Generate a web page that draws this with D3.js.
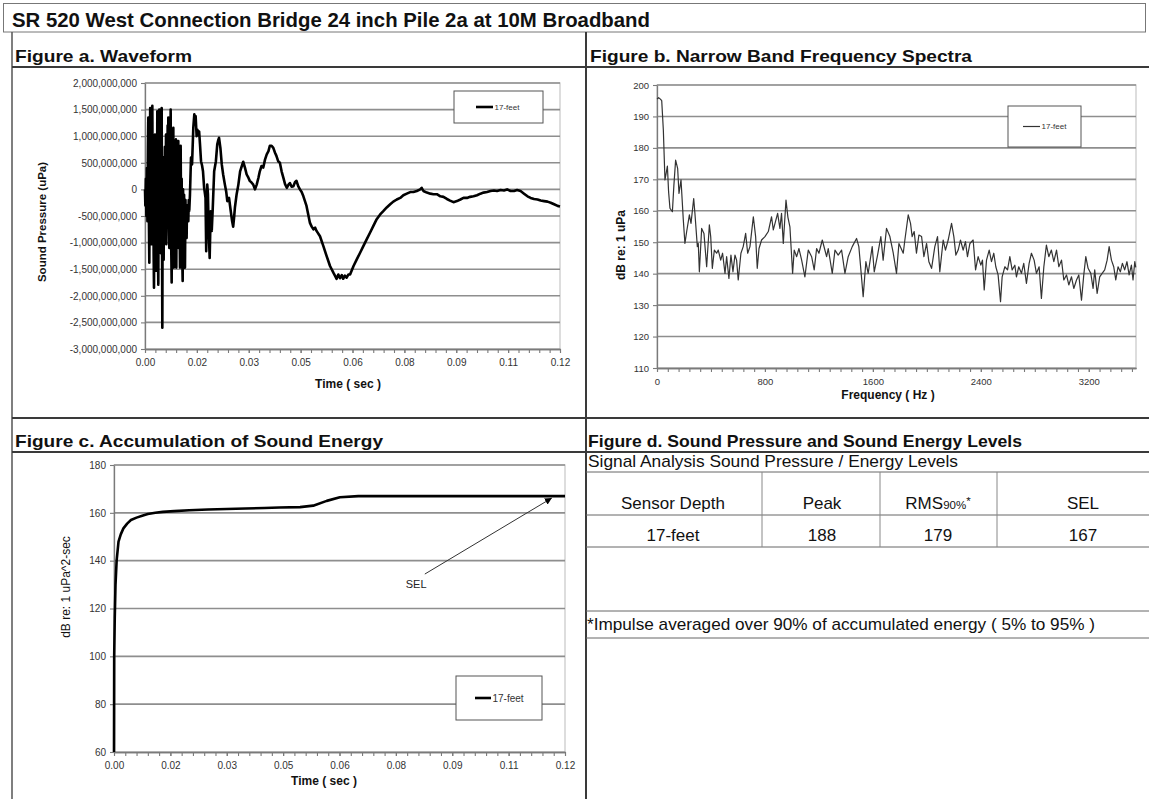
<!DOCTYPE html>
<html><head><meta charset="utf-8">
<script src="https://cdn.jsdelivr.net/npm/d3@7"></script>
<style>
body{margin:0;background:#fff}
svg{display:block}
text{font-family:"Liberation Sans",Arial,Helvetica,sans-serif}
</style>
</head><body>
<svg id="c" width="1149" height="799"></svg>
<script>
// ---------------- DATA ----------------
const chartTitle = "SR 520 West Connection Bridge 24 inch Pile 2a at 10M Broadband";
const panelTitles = ["Figure a. Waveform","Figure b. Narrow Band Frequency Spectra","Figure c. Accumulation of Sound Energy","Figure d. Sound Pressure and Sound Energy Levels"];
const seriesName = "17-feet";

// Figure a: waveform [time ms, pressure x 1e9 uPa]
const waveform = [
[0.00,0.0],[0.10,-0.3],[0.25,0.2],[0.40,-0.5],[0.55,0.4],[0.70,-0.6],[0.85,0.8],[0.96,1.35],[1.10,-0.4],[1.25,-1.38],
[1.40,0.6],[1.50,1.53],[1.65,-0.2],[1.80,0.9],[1.93,-1.03],[2.05,1.2],[2.12,1.57],[2.25,-0.5],[2.40,0.7],[2.50,-1.2],
[2.60,-1.85],[2.75,0.3],[2.89,1.03],[3.00,-0.8],[3.10,0.5],[3.18,-1.53],[3.30,0.8],[3.45,-0.6],[3.56,1.47],[3.70,-0.9],
[3.85,-1.79],[3.95,0.4],[4.05,1.1],[4.14,1.50],[4.25,-0.6],[4.34,-0.85],[4.45,0.9],[4.60,-1.2],[4.72,0.6],[4.82,1.53],
[4.92,-0.9],[5.01,-2.60],[5.12,0.2],[5.20,-0.7],[5.30,0.60],[5.40,-1.32],[5.49,0.3],[5.60,-0.5],[5.75,0.8],[5.90,-0.8],
[6.07,1.03],[6.15,-1.03],[6.26,0.5],[6.40,-0.7],[6.55,1.2],[6.65,-0.4],[6.74,1.35],[6.88,-0.6],[7.03,-1.10],[7.15,0.7],
[7.28,-0.3],[7.42,1.50],[7.55,-0.9],[7.71,-1.75],[7.82,0.5],[7.95,-0.8],[8.05,0.9],[8.19,1.16],[8.30,-1.47],[8.45,0.3],
[8.60,-0.9],[8.75,0.8],[8.96,0.94],[9.05,-1.47],[9.20,0.2],[9.35,-0.8],[9.50,0.7],[9.63,0.91],[9.75,-1.10],[9.90,0.3],
[10.05,-0.9],[10.12,-1.47],[10.22,0.5],[10.31,0.82],[10.45,-0.7],[10.60,0.2],[10.75,-1.2],[10.89,-1.72],[11.00,0.0],[11.15,-0.5],
[11.30,-0.1],[11.45,-1.1],[11.56,-1.47],[11.70,-0.2],[11.85,-0.9],[12.04,-0.91],[12.15,-0.3],[12.30,-0.6],[12.52,-0.60],[12.65,-0.2],
[12.80,-0.4],[13.00,-0.1],[13.3,0.60],[13.6,0.47],[13.97,1.16],[14.26,1.41],[14.45,1.30],[14.64,1.38],[14.93,1.0],[15.15,1.12],
[15.4,1.02],[15.65,1.09],[15.9,0.85],[16.2,0.53],[16.5,0.45],[16.77,0.34],[17.1,0.03],[17.5,-0.16],[17.7,-1.16],[18.0,0.09],
[18.2,-0.09],[18.4,-0.72],[18.7,-1.29],[19.0,-0.41],[19.3,-0.78],[19.6,-0.34],[20.0,0.34],[20.5,0.53],[20.9,0.85],[21.15,0.92],
[21.4,0.97],[21.8,0.78],[22.2,0.47],[22.6,0.28],[23.1,0.09],[23.5,-0.05],[23.8,-0.22],[24.3,-0.16],[24.8,-0.41],[25.2,-0.60],
[25.5,-0.70],[25.8,-0.50],[26.0,-0.34],[26.5,-0.09],[27.0,0.09],[27.5,0.34],[28.0,0.44],[28.4,0.52],[28.9,0.41],[29.4,0.28],
[29.9,0.22],[30.3,0.16],[30.8,0.13],[31.3,0.09],[31.8,0.0],[32.3,0.09],[32.8,0.22],[33.2,0.34],[33.7,0.44],[34.2,0.41],
[34.7,0.56],[35.2,0.66],[35.7,0.72],[36.1,0.82],[36.6,0.82],[37.1,0.78],[37.6,0.69],[38.0,0.63],[38.5,0.53],[39.0,0.50],
[39.5,0.34],[40.0,0.22],[40.5,0.10],[41.0,0.03],[41.5,0.09],[41.9,0.12],[42.4,0.05],[42.9,0.06],[43.4,0.14],[43.8,0.16],
[44.3,0.06],[44.8,0.0],[45.3,-0.05],[45.8,-0.13],[46.7,-0.31],[47.7,-0.63],[48.2,-0.70],[48.7,-0.75],[49.2,-0.72],[49.6,-0.78],
[50.6,-0.88],[51.6,-1.07],[52.5,-1.25],[53.5,-1.44],[54.5,-1.57],[55.0,-1.63],[55.4,-1.68],[55.9,-1.60],[56.4,-1.67],[56.9,-1.61],
[57.3,-1.68],[57.8,-1.62],[58.3,-1.66],[58.8,-1.60],[59.3,-1.60],[60.3,-1.44],[61.2,-1.32],[62.2,-1.19],[63.1,-1.07],[64.1,-0.94],
[65.1,-0.81],[66.0,-0.69],[67.0,-0.56],[68.0,-0.47],[68.9,-0.41],[69.9,-0.34],[70.9,-0.28],[71.8,-0.23],[72.8,-0.19],[73.8,-0.16],
[74.7,-0.11],[75.7,-0.08],[76.7,-0.05],[77.6,-0.05],[78.6,-0.03],[79.6,0.0],[80.0,0.03],[80.5,-0.03],[81.5,-0.06],[82.5,-0.08],
[83.4,-0.09],[84.4,-0.09],[85.4,-0.13],[86.3,-0.14],[87.3,-0.18],[88.2,-0.21],[89.2,-0.24],[90.2,-0.22],[91.2,-0.19],[92.1,-0.16],
[93.1,-0.16],[94.0,-0.14],[95.0,-0.13],[96.0,-0.11],[97.0,-0.08],[97.9,-0.06],[98.9,-0.05],[99.9,-0.03],[100.9,-0.02],[101.8,-0.03],
[102.8,-0.01],[103.8,-0.02],[104.7,0.0],[105.7,-0.03],[106.7,-0.03],[107.6,-0.01],[108.6,-0.03],[109.6,-0.08],[110.6,-0.13],[111.5,-0.16],
[112.5,-0.18],[113.5,-0.19],[114.4,-0.21],[115.4,-0.22],[116.4,-0.23],[117.3,-0.25],[118.3,-0.28],[119.3,-0.31],[120.0,-0.32]
];
const waveYTicks = [-3e9,-2.5e9,-2e9,-1.5e9,-1e9,-5e8,0,5e8,1e9,1.5e9,2e9];
const waveYLabels = ["-3,000,000,000","-2,500,000,000","-2,000,000,000","-1,500,000,000","-1,000,000,000","-500,000,000","0","500,000,000","1,000,000,000","1,500,000,000","2,000,000,000"];
const timeTicks = [0,0.015,0.03,0.045,0.06,0.075,0.09,0.105,0.12];
const timeLabels = ["0.00","0.02","0.03","0.05","0.06","0.08","0.09","0.11","0.12"];

// Figure b: spectrum [frequency Hz, dB]
const spectrum = [
[0,195.5],[12,196],[25,195.5],[35,195],[47,185.7],[59,169.8],[68,172],[77,174.2],[86,166],[96,160.8],[114,159.7],[125,168],
[138,176.1],[153,173.5],[163,165.5],[178,169.8],[195,157.1],[207,149.6],[220,153.4],[240,158.7],[252,156],[272,163.9],[281,159.2],
[299,148.6],[306,149.6],[314,140.6],[331,154.4],[348,152.8],[368,142.2],[388,155.5],[398,151.8],[410,141.7],[425,147.5],[442,146.5],
[454,147.5],[472,144.3],[486,146.5],[504,140.1],[516,145.4],[533,138.5],[548,145.9],[563,140.6],[578,145.9],[590,144.3],[602,138],
[622,146.5],[639,148.6],[657,152.8],[672,146.5],[689,148.6],[714,158.1],[731,151.8],[743,141.7],[756,148],[775,150.7],[800,151.8],
[825,153.4],[849,158.1],[862,153.9],[894,159.2],[911,154.4],[923,159.2],[936,149.6],[956,163.4],[970,158],[985,154.9],[1005,140.1],
[1017,147.5],[1035,145.4],[1052,148],[1072,144.3],[1096,139],[1121,147.5],[1146,145.4],[1165,141.2],[1183,148],[1200,146.5],
[1225,150.7],[1257,145.4],[1269,148],[1299,140.1],[1319,147.5],[1343,145.9],[1368,147.5],[1393,140.1],[1417,145.4],[1447,148.6],
[1479,151.2],[1496,148.6],[1511,141.2],[1528,132.7],[1548,143.8],[1565,140.1],[1595,148.6],[1610,140.6],[1635,146],[1659,151.8],
[1676,144.3],[1701,154.4],[1726,151.8],[1751,146.5],[1775,140.1],[1793,149.6],[1825,146.5],[1837,150.7],[1862,158.7],[1879,156],
[1891,151.8],[1906,153.4],[1923,146.5],[1941,152.3],[1961,151.8],[1978,145.4],[1998,149.6],[2015,143.8],[2035,141.7],[2059,148.6],
[2079,151.8],[2096,140.6],[2121,150.7],[2138,147.5],[2158,150.7],[2183,156],[2200,151.8],[2215,145.9],[2232,147.5],[2249,150.7],
[2269,147.5],[2286,150.2],[2301,145.4],[2319,149.6],[2343,150.7],[2361,141.2],[2380,145.4],[2400,142.7],[2412,144.3],[2425,134.8],
[2442,144.3],[2462,147.5],[2479,143.8],[2496,146.5],[2511,142.2],[2528,139.6],[2546,131.1],[2558,139],[2578,142.2],[2598,141.2],
[2615,145.4],[2632,141.2],[2652,142.7],[2664,139],[2681,142.2],[2701,140.1],[2718,143.3],[2738,136.9],[2758,143.3],[2775,146.5],
[2795,144.3],[2812,140.1],[2832,142.2],[2849,132.1],[2867,142.2],[2886,149.1],[2904,145.4],[2923,147.5],[2941,143.8],[2961,147.5],
[2978,142.2],[2998,144.3],[3015,138],[3035,139.6],[3052,136.4],[3072,139],[3089,135.3],[3109,138],[3126,139.6],[3146,131.6],
[3163,139.6],[3178,145.4],[3195,141.7],[3215,140.1],[3232,135.3],[3244,141.2],[3262,133.7],[3281,139],[3299,140.1],[3318,141.2],
[3336,144.3],[3351,148.6],[3368,144.3],[3385,142.2],[3400,138],[3417,142.2],[3434,140.6],[3449,143.3],[3466,141.2],[3483,143.8],
[3499,139.6],[3516,142.7],[3528,138],[3541,143.8],[3548,142]
];
const specYTicks = [110,120,130,140,150,160,170,180,190,200];
const specXTicks = [0,800,1600,2400,3200];

// Figure c: accumulated energy [time s, dB]
const energy = [
[0,60],[0.00005,100],[0.0002,116],[0.0004,130],[0.0007,140],[0.0012,148],[0.0018,151],[0.0025,153.5],[0.0035,155.5],
[0.0045,157],[0.006,158],[0.0075,158.8],[0.009,159.5],[0.011,160],[0.013,160.4],[0.016,160.7],[0.02,161.1],[0.025,161.4],
[0.03,161.6],[0.035,161.8],[0.04,162],[0.044,162.2],[0.0495,162.4],[0.053,163.0],[0.0566,165.0],[0.0601,166.5],[0.065,167.0],
[0.09,167.0],[0.12,167.0]
];
const energyYTicks = [60,80,100,120,140,160,180];
const selAnnotation = {label:"SEL", from:[0.0827,134.4], to:[0.1165,166.2], text:[0.0804,128.6]};

// Figure d: table
const tableHeader = ["Sensor Depth","Peak","RMS","SEL"];
const tableRow = ["17-feet","188","179","167"];
const tableCaption = "Signal Analysis Sound Pressure / Energy Levels";
const footnote = "*Impulse averaged over 90% of accumulated energy ( 5% to 95% )";

// ---------------- DRAW ----------------
const svg = d3.select("#c");
const W = 1149, H = 799;
svg.append("rect").attr("width",W).attr("height",H).attr("fill","#fff");

// frame
const frame = svg.append("g").attr("fill","none");
frame.append("rect").attr("x",3.5).attr("y",3.5).attr("width",1142).attr("height",28.5).attr("stroke","#777").attr("stroke-width",1);
const dark = "#3a3a3a";
function hline(y,x1,x2,w,c){frame.append("line").attr("x1",x1).attr("x2",x2).attr("y1",y).attr("y2",y).attr("stroke",c||dark).attr("stroke-width",w||1);}
function vline(x,y1,y2,w,c){frame.append("line").attr("x1",x).attr("x2",x).attr("y1",y1).attr("y2",y2).attr("stroke",c||dark).attr("stroke-width",w||1);}
vline(12,32,799,1.5,"#555");
vline(586,32,799,2);
hline(67,12,1149,2);
hline(418,12,1149,2);
hline(452,12,1149,2);
hline(472,586,1149,1,"#666");
hline(515,586,1149,1,"#666");
hline(547,586,1149,1,"#666");
hline(611,586,1149,1,"#666");
hline(638,586,1149,1,"#666");
[762,880,997].forEach(x=>vline(x,472,547,1,"#888"));

svg.append("text").attr("x",12).attr("y",27).attr("font-size",20.5).attr("font-weight","bold").attr("fill","#111")
  .attr("textLength",638).attr("lengthAdjust","spacingAndGlyphs").text(chartTitle);
const headerPos = [[15,62,177],[590,62,382],[15,447,368],[588,447,434]];
panelTitles.forEach((t,i)=>svg.append("text").attr("x",headerPos[i][0]).attr("y",headerPos[i][1]).attr("font-size",16.5).attr("font-weight","bold").attr("fill","#111")
  .attr("textLength",headerPos[i][2]).attr("lengthAdjust","spacingAndGlyphs").text(t));

function panelChart(cfg){
  const [L,T,R,B] = cfg.box;
  const x = d3.scaleLinear().domain(cfg.xDomain).range([L,R]);
  const y = d3.scaleLinear().domain(cfg.yDomain).range([B,T]);
  const g = svg.append("g");
  g.append("rect").attr("x",L).attr("y",T).attr("width",R-L).attr("height",B-T).attr("fill","#fff").attr("stroke","#c6c6c6").attr("stroke-width",1.2);
  g.append("g").selectAll("line").data(cfg.yTicks.filter(v=>v!==cfg.yDomain[0])).join("line")
    .attr("x1",L).attr("x2",R).attr("y1",d=>y(d)).attr("y2",d=>y(d)).attr("stroke","#8e8e8e").attr("stroke-width",1.6);
  const ya = g.append("g").attr("transform",`translate(${L},0)`)
    .call(d3.axisLeft(y).tickValues(cfg.yTicks).tickFormat((d,i)=>cfg.yLabels[i]).tickSize(4).tickSizeOuter(0).tickPadding(4));
  const xm = g.append("g").attr("transform",`translate(0,${B})`)
    .call(d3.axisBottom(x).tickValues(cfg.xMinor).tickFormat("").tickSize(4).tickSizeOuter(0));
  const xa = g.append("g").attr("transform",`translate(0,${B})`)
    .call(d3.axisBottom(x).tickValues(cfg.xTicks).tickFormat((d,i)=>cfg.xLabels[i]).tickSize(4).tickSizeOuter(0).tickPadding(cfg.xPad||6));
  [ya,xm,xa].forEach(a=>{
    a.select(".domain").attr("stroke","#7a7a7a").attr("stroke-width",1.3);
    a.selectAll(".tick line").attr("stroke","#7a7a7a").attr("stroke-width",1.1);
    a.selectAll("text").attr("font-size",cfg.tickFont).attr("fill","#333");
  });
  const line = d3.line().x(d=>x(d[0]*cfg.xMul)).y(d=>y(d[1]*cfg.yMul));
  g.append("path").datum(cfg.data).attr("d",line).attr("fill","none").attr("stroke",cfg.stroke).attr("stroke-width",cfg.strokeWidth).attr("stroke-linejoin","round");
  // axis titles
  g.append("text").attr("transform",`translate(${cfg.yTitle[1]},${cfg.yTitle[2]}) rotate(-90)`).attr("text-anchor","middle")
    .attr("font-size",cfg.yTitle[3]).attr("font-weight",cfg.yTitle[4]).attr("fill","#111").text(cfg.yTitle[0]);
  g.append("text").attr("x",cfg.xTitle[1]).attr("y",cfg.xTitle[2]).attr("text-anchor","middle")
    .attr("font-size",cfg.xTitle[3]).attr("font-weight","bold").attr("fill","#111").text(cfg.xTitle[0]);
  // legend
  const lg = cfg.legend;
  g.append("rect").attr("x",lg.box[0]).attr("y",lg.box[1]).attr("width",lg.box[2]-lg.box[0]).attr("height",lg.box[3]-lg.box[1]).attr("fill","#fff").attr("stroke","#555").attr("stroke-width",1);
  const ly = (lg.box[1]+lg.box[3])/2;
  g.append("line").attr("x1",lg.line[0]).attr("x2",lg.line[1]).attr("y1",ly).attr("y2",ly).attr("stroke",cfg.stroke).attr("stroke-width",cfg.strokeWidth);
  g.append("text").attr("x",lg.line[1]+1.5).attr("y",ly+lg.font*0.35).attr("font-size",lg.font).attr("fill","#333").text(seriesName);
  return {x,y,g};
}

// Figure a
panelChart({
  box:[145,83,560,349], xDomain:[0,0.12], yDomain:[-3e9,2e9],
  yTicks:waveYTicks, yLabels:waveYLabels, xTicks:timeTicks, xLabels:timeLabels,
  xMinor:d3.range(0,0.12001,0.003), tickFont:10,
  data:waveform, xMul:0.001, yMul:1e9, stroke:"#000", strokeWidth:2.6,
  yTitle:["Sound Pressure (uPa)",46,222,11.5,"bold"], xTitle:["Time ( sec )",348,388,12],
  legend:{box:[454,91,543,123], line:[476,493], font:8}
});

// Figure b
panelChart({
  box:[657,85,1136,368], xDomain:[0,3550], yDomain:[110,200],
  yTicks:specYTicks, yLabels:specYTicks.map(String), xTicks:specXTicks, xLabels:specXTicks.map(String),
  xMinor:d3.range(0,3550,80), tickFont:9.5,
  data:spectrum, xMul:1, yMul:1, stroke:"#333", strokeWidth:1.2,
  yTitle:["dB re: 1 uPa",625,245,12,"bold"], xTitle:["Frequency ( Hz )",888,399,12],
  legend:{box:[1008,106,1081,147], line:[1023,1040], font:8}
});

// Figure c
const cc = panelChart({
  box:[114,465,565,752], xDomain:[0,0.12], yDomain:[60,180],
  yTicks:energyYTicks, yLabels:energyYTicks.map(String), xTicks:timeTicks, xLabels:timeLabels,
  xMinor:d3.range(0,0.12001,0.003), tickFont:10,
  data:energy, xMul:1, yMul:1, stroke:"#000", strokeWidth:2.6,
  yTitle:["dB re: 1 uPa^2-sec",70,587,12,"normal"], xTitle:["Time ( sec )",324,785,12],
  legend:{box:[456,676,542,720], line:[475,491], font:10}
});
// SEL annotation
svg.append("defs").append("marker").attr("id","arr").attr("markerUnits","userSpaceOnUse").attr("markerWidth",8).attr("markerHeight",7)
  .attr("refX",7).attr("refY",3.5).attr("orient","auto").append("path").attr("d","M0,0 L7,3.5 L0,7 z").attr("fill","#000");
cc.g.append("line").attr("x1",cc.x(selAnnotation.from[0])).attr("y1",cc.y(selAnnotation.from[1]))
  .attr("x2",cc.x(selAnnotation.to[0])).attr("y2",cc.y(selAnnotation.to[1])).attr("stroke","#333").attr("stroke-width",1).attr("marker-end","url(#arr)");
cc.g.append("text").attr("x",cc.x(selAnnotation.text[0])).attr("y",cc.y(selAnnotation.text[1])).attr("text-anchor","middle")
  .attr("font-size",11).attr("fill","#222").text(selAnnotation.label);

// Figure d table
const td = svg.append("g").attr("fill","#111");
td.append("text").attr("x",588).attr("y",467).attr("font-size",17).attr("textLength",370).attr("lengthAdjust","spacingAndGlyphs").text(tableCaption);
const colCenters = [673,822,938,1083];
tableHeader.forEach((h,i)=>{
  const t = td.append("text").attr("x",colCenters[i]).attr("y",509).attr("text-anchor","middle").attr("font-size",17);
  if(i===2){ t.append("tspan").text(h); t.append("tspan").attr("font-size",11.5).text("90%"); t.append("tspan").attr("font-size",11.5).attr("dy",-4).text("*"); }
  else t.text(h);
});
tableRow.forEach((v,i)=>td.append("text").attr("x",colCenters[i]).attr("y",541).attr("text-anchor","middle").attr("font-size",17).text(v));
td.append("text").attr("x",587).attr("y",630).attr("font-size",17).attr("textLength",508).attr("lengthAdjust","spacingAndGlyphs").text(footnote);
</script>
</body></html>
